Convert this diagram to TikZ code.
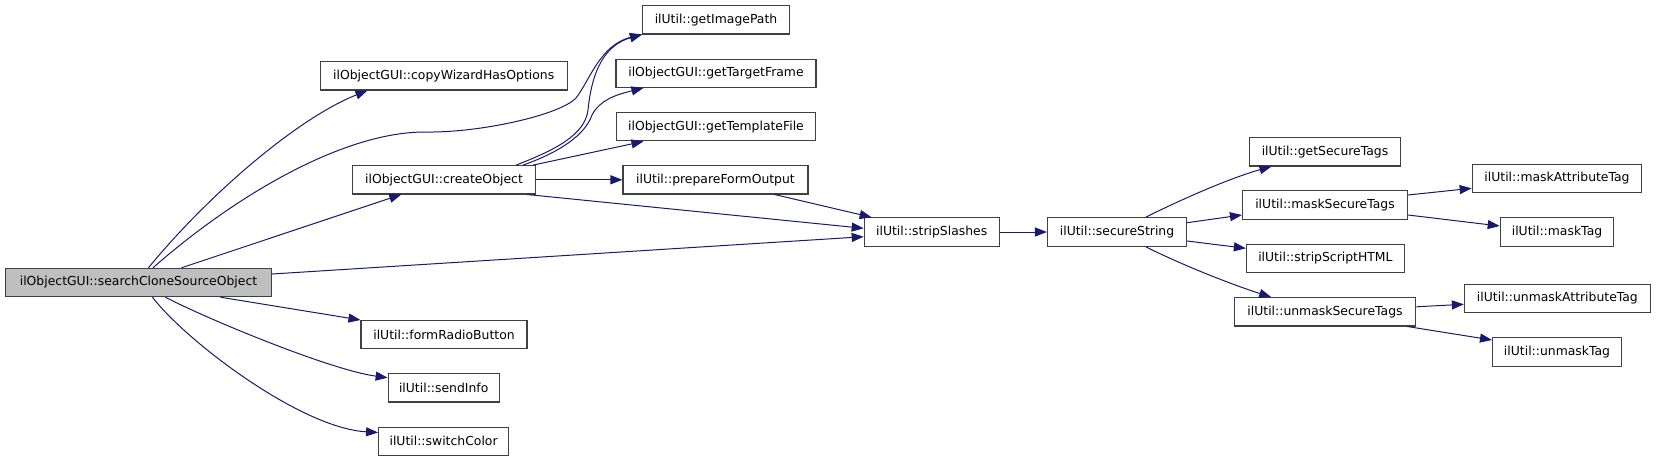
\documentclass[tikz,border=0pt]{standalone}
\usepackage{fontspec}
\setmainfont{DejaVu Sans}
\usetikzlibrary{arrows.meta}
\definecolor{edgeblue}{HTML}{191970}
\definecolor{boxgray}{HTML}{BFBFBF}
\definecolor{boxline}{HTML}{404040}
\tikzset{
  fn/.style={draw=boxline, line width=1.1pt, fill=white, rectangle, inner sep=0pt,
    minimum height=28.3pt, font=\fontsize{12.4}{14}\selectfont},
  cur/.style={fn, fill=boxgray},
  edge/.style={draw=edgeblue, line width=1pt, -{Triangle[length=12pt,width=9pt]}}
}
\begin{document}
\begin{tikzpicture}[x=1pt,y=-1pt]
\useasboundingbox (0,0) rectangle (1656,461);
% nodes
\node[cur, minimum width=266pt] (search) at (138.5,282.5) {ilObjectGUI::searchCloneSourceObject};
\node[fn, minimum width=247pt] (copyWiz) at (443.7,75.8) {ilObjectGUI::copyWizardHasOptions};
\node[fn, minimum width=183pt] (createObject) at (444,179.8) {ilObjectGUI::createObject};
\node[fn, minimum width=166pt] (formRadio) at (444,334.7) {ilUtil::formRadioButton};
\node[fn, minimum width=111pt] (sendInfo) at (443.7,387.8) {ilUtil::sendInfo};
\node[fn, minimum width=130pt] (switchColor) at (443.6,441.2) {ilUtil::switchColor};
\node[fn, minimum width=147pt] (getImagePath) at (716,19.8) {ilUtil::getImagePath};
\node[fn, minimum width=200pt] (getTargetFrame) at (716,73.3) {ilObjectGUI::getTargetFrame};
\node[fn, minimum width=199pt] (getTemplateFile) at (716,126.7) {ilObjectGUI::getTemplateFile};
\node[fn, minimum width=185pt] (prepareForm) at (715.5,179.8) {ilUtil::prepareFormOutput};
\node[fn, minimum width=135pt] (stripSlashes) at (931.7,232) {ilUtil::stripSlashes};
\node[fn, minimum width=139pt] (secureString) at (1117,232) {ilUtil::secureString};
\node[fn, minimum width=151pt] (getSecureTags) at (1325,151.8) {ilUtil::getSecureTags};
\node[fn, minimum width=165pt] (maskSecureTags) at (1325,205) {ilUtil::maskSecureTags};
\node[fn, minimum width=158pt] (stripScript) at (1325.4,258.5) {ilUtil::stripScriptHTML};
\node[fn, minimum width=181.5pt] (unmaskSecureTags) at (1325,311.8) {ilUtil::unmaskSecureTags};
\node[fn, minimum width=169.6pt] (maskAttr) at (1557,178.5) {ilUtil::maskAttributeTag};
\node[fn, minimum width=113.5pt] (maskTag) at (1557,232) {ilUtil::maskTag};
\node[fn, minimum width=186pt] (unmaskAttr) at (1557.4,298.5) {ilUtil::unmaskAttributeTag};
\node[fn, minimum width=129pt] (unmaskTag) at (1557,352) {ilUtil::unmaskTag};
% edges from searchCloneSourceObject
\draw[edge] ([xshift=143.5pt]search.north west) .. controls (209,194) and (298,118) .. ([xshift=47.8pt]copyWiz.south west);
\draw[edge] ([xshift=148pt]search.north west) .. controls (230,200) and (340,132) .. (425,132)
  .. controls (480,133) and (560,115) .. (576,98) .. controls (590,80) and (600,45) .. (getImagePath.south west);
\draw[edge] ([xshift=176.5pt]search.north west) -- ([xshift=49.3pt]createObject.south west);
\draw[edge] ([yshift=8.5pt]search.east) -- ([yshift=-4.7pt]stripSlashes.west);
\draw[edge] ([xshift=215.5pt]search.south west) -- (formRadio.north west);
\draw[edge] ([xshift=160.5pt]search.south west) .. controls (205,318) and (330,370) .. ([yshift=-4.6pt]sendInfo.north west);
\draw[edge] ([xshift=147.5pt]search.south west) .. controls (185,340) and (300,428) .. ([yshift=-6pt]switchColor.north west);
% edges from createObject
\draw[edge] ([xshift=-20pt]createObject.north east) .. controls (555,150) and (585,135) .. (588,110)
  .. controls (592,70) and (605,45) .. (getImagePath.south west);
\draw[edge] ([xshift=-13pt]createObject.north east) .. controls (560,152) and (585,135) .. (592,115)
  .. controls (600,100) and (615,95) .. ([xshift=28pt]getTargetFrame.south west);
\draw[edge] ([xshift=-3pt]createObject.north east) -- ([xshift=27.5pt]getTemplateFile.south west);
\draw[edge] (createObject.east) -- (prepareForm.west);
\draw[edge] ([xshift=-9pt]createObject.south east) -- ([yshift=3.7pt]stripSlashes.west);
\draw[edge] ([xshift=-34pt]prepareForm.south east) -- ([xshift=8pt]stripSlashes.north west);
\draw[edge] (stripSlashes.east) -- (secureString.west);
% edges from secureString
\draw[edge] ([xshift=-41.5pt]secureString.north east) .. controls (1180,200) and (1230,178) .. ([xshift=22.5pt]getSecureTags.south west);
\draw[edge] ([yshift=9.3pt]secureString.east) -- ([yshift=-10pt]maskSecureTags.west);
\draw[edge] ([yshift=-9pt]secureString.east) -- ([yshift=10.2pt]stripScript.west);
\draw[edge] ([xshift=-41.5pt]secureString.south east) .. controls (1180,264) and (1230,284) .. ([xshift=37.5pt]unmaskSecureTags.north west);
% mask / unmask
\draw[edge] ([yshift=10pt]maskSecureTags.east) -- ([yshift=-9.8pt]maskAttr.west);
\draw[edge] ([yshift=-10pt]maskSecureTags.east) -- ([yshift=6pt]maskTag.west);
\draw[edge] ([yshift=5pt]unmaskSecureTags.east) -- ([yshift=-5.8pt]unmaskAttr.west);
\draw[edge] ([xshift=-9pt]unmaskSecureTags.south east) -- ([yshift=12pt]unmaskTag.west);
\end{tikzpicture}
\end{document}
